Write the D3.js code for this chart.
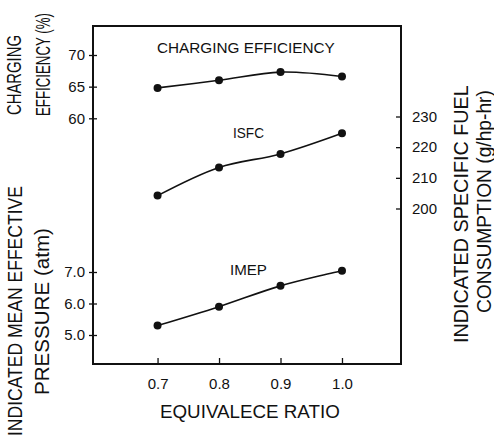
<!DOCTYPE html>
<html>
<head>
<meta charset="utf-8">
<script src="https://cdn.jsdelivr.net/npm/d3@7"></script>
<style>
  html, body { margin: 0; padding: 0; background: #fff; }
  svg { display: block; }
  text { font-family: "Liberation Sans", Arial, sans-serif; fill: #111; }
</style>
</head>
<body>
<div id="chart"></div>
<script>
// Equivalence ratio and the three measured quantities
const ratio = [0.7, 0.8, 0.9, 1.0];
const chargingEfficiency = [64.8, 66.0, 67.3, 66.6];   // %
const isfc = [204.2, 213.4, 217.8, 224.5];             // g/hp-hr
const imep = [5.30, 5.90, 6.56, 7.04];                 // atm

const xTicks = [0.7, 0.8, 0.9, 1.0];
const ceTicks = [60, 65, 70];
const isfcTicks = [200, 210, 220, 230];
const imepTicks = [5.0, 6.0, 7.0];

const W = 494, H = 440;
const frame = { left: 93, right: 401, top: 26, bottom: 364 };

const svg = d3.select("#chart").append("svg")
  .attr("width", W).attr("height", H);

const x = d3.scaleLinear().domain([0.595, 1.096]).range([frame.left, frame.right]);
const yCE = d3.scaleLinear().domain([60, 70]).range([118.3, 55]);
const yISFC = d3.scaleLinear().domain([200, 230]).range([208.5, 116.5]);
const yIMEP = d3.scaleLinear().domain([5, 7]).range([335, 272]);

// plot frame
svg.append("rect")
  .attr("x", frame.left).attr("y", frame.top)
  .attr("width", frame.right - frame.left)
  .attr("height", frame.bottom - frame.top)
  .attr("fill", "none").attr("stroke", "#111").attr("stroke-width", 2);

const tickFont = 15;
const fontStack = "Liberation Sans, Arial, sans-serif";

// bottom axis (ticks point inward)
const xAxis = d3.axisBottom(x).tickValues(xTicks).tickFormat(d3.format(".1f"))
  .tickSizeInner(-6).tickSizeOuter(0).tickPadding(14);
const gx = svg.append("g").attr("transform", `translate(0,${frame.bottom})`).call(xAxis);
gx.select(".domain").remove();
gx.selectAll("line").attr("stroke", "#111").attr("stroke-width", 1.3);
gx.selectAll("text").attr("font-size", tickFont).style("font-family", fontStack).attr("fill", "#111");

// left axes: charging efficiency (upper) and IMEP (lower)
function leftAxis(scale, ticks, fmt) {
  const ax = d3.axisLeft(scale).tickValues(ticks).tickFormat(fmt)
    .tickSizeInner(4).tickSizeOuter(0).tickPadding(4);
  const g = svg.append("g").attr("transform", `translate(${frame.left},0)`).call(ax);
  g.select(".domain").remove();
  g.selectAll("line").attr("x2", 4).attr("x1", -4).attr("stroke", "#111").attr("stroke-width", 1.3);
  g.selectAll("text").attr("x", -8).attr("font-size", tickFont)
    .style("font-family", fontStack).attr("fill", "#111");
}
leftAxis(yCE, ceTicks, d3.format("d"));
leftAxis(yIMEP, imepTicks, d3.format(".1f"));

// right axis: ISFC (ticks point inward)
const rAx = d3.axisRight(yISFC).tickValues(isfcTicks).tickFormat(d3.format("d"))
  .tickSizeInner(-5).tickSizeOuter(0).tickPadding(11);
const gr = svg.append("g").attr("transform", `translate(${frame.right},0)`).call(rAx);
gr.select(".domain").remove();
gr.selectAll("line").attr("stroke", "#111").attr("stroke-width", 1.3);
gr.selectAll("text").attr("font-size", tickFont)
  .style("font-family", fontStack).attr("fill", "#111");

// series: smooth curves through the measured points
const series = [
  { values: chargingEfficiency, y: yCE },
  { values: isfc, y: yISFC },
  { values: imep, y: yIMEP }
];
series.forEach(s => {
  const pts = ratio.map((r, i) => [r, s.values[i]]);
  const line = d3.line().x(d => x(d[0])).y(d => s.y(d[1])).curve(d3.curveCatmullRom.alpha(0.5));
  svg.append("path").datum(pts).attr("d", line)
    .attr("fill", "none").attr("stroke", "#111").attr("stroke-width", 1.6);
  svg.selectAll(null).data(pts).enter().append("circle")
    .attr("cx", d => x(d[0])).attr("cy", d => s.y(d[1])).attr("r", 4)
    .attr("fill", "#111");
});

// text fitted to a given run length by scaling along the reading direction
function fitted(txt, tx, ty, angle, len, size) {
  const t = svg.append("text").attr("font-size", size).text(txt);
  const natural = t.node().getComputedTextLength();
  const k = len / natural;
  t.attr("transform", `translate(${tx},${ty}) rotate(${angle}) scale(${k},1)`);
  return t;
}

// series labels inside the frame
fitted("CHARGING EFFICIENCY", 157, 53, 0, 178, 14);
fitted("ISFC", 233, 138, 0, 31, 15);
fitted("IMEP", 230, 275, 0, 37, 15);

// axis titles
fitted("EQUIVALECE RATIO", 160, 418, 0, 180, 19);
fitted("CHARGING", 21, 115, -90, 80, 20);
fitted("EFFICIENCY (%)", 50, 116, -90, 103, 20);
fitted("INDICATED MEAN EFFECTIVE", 22, 436, -90, 250, 20);
fitted("PRESSURE (atm)", 49, 395, -90, 167, 20);
fitted("INDICATED SPECIFIC FUEL", 468, 343, -90, 258, 20);
fitted("CONSUMPTION (g/hp-hr)", 491, 313, -90, 223, 20);
</script>
</body>
</html>
